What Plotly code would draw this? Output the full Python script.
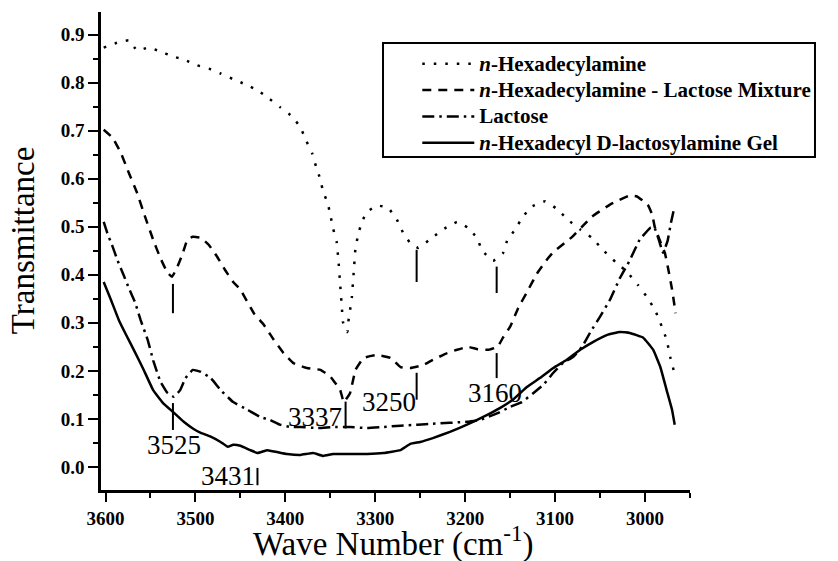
import plotly.graph_objects as go

# ---------------- data ----------------
hexa_x = [3602, 3587, 3574, 3565, 3552, 3539, 3526, 3513, 3498, 3485, 3472, 3459, 3444, 3431,
          3419, 3406, 3392, 3383, 3377, 3370, 3366, 3361, 3358, 3353, 3350, 3347, 3343, 3341,
          3339, 3337, 3336, 3333, 3331, 3330, 3328, 3326, 3324, 3322, 3319, 3315, 3309, 3298,
          3286, 3276, 3269, 3261, 3252, 3237, 3224, 3209, 3197, 3187, 3181, 3169, 3158, 3153,
          3144, 3137, 3126, 3111, 3098, 3086, 3072, 3059, 3047, 3033, 3020, 3008, 2998, 2989,
          2983, 2976, 2972, 2968]
hexa_y = [0.873, 0.883, 0.888, 0.867, 0.873, 0.865, 0.855, 0.848, 0.836, 0.829, 0.819, 0.808,
          0.796, 0.784, 0.768, 0.749, 0.729, 0.706, 0.680, 0.652, 0.626, 0.598, 0.573, 0.550,
          0.525, 0.497, 0.469, 0.431, 0.379, 0.327, 0.302, 0.285, 0.281, 0.302, 0.327, 0.354,
          0.404, 0.456, 0.483, 0.510, 0.531, 0.544, 0.540, 0.515, 0.487, 0.466, 0.456, 0.477,
          0.495, 0.510, 0.498, 0.477, 0.450, 0.429, 0.445, 0.473, 0.495, 0.518, 0.542, 0.553,
          0.537, 0.515, 0.494, 0.477, 0.452, 0.427, 0.406, 0.379, 0.354, 0.327, 0.300, 0.265,
          0.229, 0.200]

mix_x = [3602, 3592, 3583, 3574, 3565, 3556, 3547, 3539, 3531, 3526, 3520, 3514, 3509, 3503,
         3494, 3485, 3476, 3467, 3458, 3450, 3435, 3424, 3413, 3402, 3391, 3376, 3361, 3350,
         3339, 3335, 3328, 3322, 3313, 3298, 3283, 3272, 3261, 3247, 3236, 3220, 3209, 3197,
         3186, 3174, 3164, 3158, 3150, 3141, 3131, 3120, 3109, 3102, 3081, 3070, 3059, 3039,
         3017, 3009, 2997, 2992, 2989, 2983, 2978, 2974, 2970, 2966]
mix_y = [0.702, 0.685, 0.654, 0.612, 0.571, 0.521, 0.473, 0.435, 0.404, 0.396, 0.417, 0.445,
         0.473, 0.479, 0.477, 0.462, 0.438, 0.410, 0.385, 0.369, 0.320, 0.296, 0.265, 0.237,
         0.216, 0.206, 0.202, 0.188, 0.160, 0.135, 0.154, 0.202, 0.227, 0.233, 0.227, 0.208,
         0.206, 0.212, 0.223, 0.237, 0.244, 0.250, 0.245, 0.244, 0.250, 0.269, 0.292, 0.331,
         0.365, 0.403, 0.432, 0.447, 0.479, 0.500, 0.521, 0.546, 0.565, 0.563, 0.546, 0.525,
         0.498, 0.469, 0.446, 0.410, 0.370, 0.320]

lac_x = [3602, 3598, 3592, 3587, 3580, 3574, 3567, 3561, 3553, 3547, 3539, 3531, 3524, 3517,
         3511, 3503, 3494, 3483, 3472, 3458, 3442, 3428, 3417, 3406, 3394, 3383, 3364, 3347,
         3328, 3309, 3291, 3272, 3253, 3236, 3198, 3183, 3164, 3150, 3137, 3124, 3113, 3102,
         3091, 3080, 3070, 3061, 3050, 3039, 3028, 3017, 3006, 2994, 2990, 2985, 2980, 2975,
         2971, 2968]
lac_y = [0.510, 0.487, 0.458, 0.432, 0.400, 0.372, 0.342, 0.306, 0.264, 0.222, 0.178, 0.154,
         0.146, 0.160, 0.185, 0.202, 0.198, 0.185, 0.160, 0.135, 0.119, 0.104, 0.098, 0.088,
         0.083, 0.083, 0.081, 0.083, 0.083, 0.081, 0.083, 0.086, 0.088, 0.090, 0.094, 0.098,
         0.112, 0.125, 0.135, 0.154, 0.171, 0.196, 0.217, 0.229, 0.250, 0.280, 0.313, 0.348,
         0.393, 0.430, 0.473, 0.498, 0.500, 0.475, 0.446, 0.470, 0.510, 0.535]

gel_x = [3602, 3594, 3585, 3576, 3567, 3558, 3547, 3536, 3524, 3513, 3502, 3494, 3483, 3472,
         3464, 3458, 3450, 3439, 3431, 3420, 3409, 3398, 3383, 3369, 3358, 3347, 3328, 3309,
         3291, 3272, 3261, 3250, 3236, 3217, 3198, 3180, 3161, 3147, 3131, 3117, 3102, 3087,
         3072, 3058, 3042, 3028, 3017, 3002, 2991, 2983, 2976, 2970, 2967]
gel_y = [0.385, 0.348, 0.305, 0.271, 0.238, 0.204, 0.160, 0.133, 0.113, 0.094, 0.079, 0.071,
         0.063, 0.052, 0.042, 0.046, 0.044, 0.035, 0.029, 0.035, 0.031, 0.027, 0.025, 0.029,
         0.023, 0.027, 0.027, 0.027, 0.029, 0.035, 0.048, 0.052, 0.060, 0.073, 0.088, 0.104,
         0.123, 0.140, 0.167, 0.185, 0.206, 0.223, 0.244, 0.260, 0.275, 0.281, 0.279, 0.269,
         0.244, 0.208, 0.160, 0.119, 0.088]

series_names = ["<i>n</i>-Hexadecylamine",
                "<i>n</i>-Hexadecylamine - Lactose Mixture",
                "Lactose",
                "<i>n</i>-Hexadecyl D-lactosylamine Gel"]

# peak markers: wavenumber, y start, y end
mark_x = [3525, 3525, 3431, 3333, 3254, 3254, 3165, 3165]
mark_y0 = [0.381, 0.133, -0.002, 0.136, 0.452, 0.196, 0.417, 0.237]
mark_y1 = [0.320, 0.077, -0.038, 0.080, 0.385, 0.140, 0.362, 0.185]

# peak labels
label_text = ["3525", "3431", "3337", "3250", "3160"]
label_x = [3524, 3464, 3367, 3285, 3167]
label_y = [0.046, -0.019, 0.104, 0.135, 0.154]

x_ticks = [3600, 3500, 3400, 3300, 3200, 3100, 3000]

# ---------------- figure ----------------
SERIF = "Liberation Serif"
fig = go.Figure()

styles = ["2.5px,9px", "9px,7px", "12px,5px,2.5px,5px", "solid"]
for xs, ys, name, dash in zip([hexa_x, mix_x, lac_x, gel_x], [hexa_y, mix_y, lac_y, gel_y],
                              series_names, styles):
    fig.add_trace(go.Scatter(x=xs, y=ys, mode="lines",
                             name='<span style="font-size:21px">' + name + '</span>',
                             line=dict(color="black", width=2.5, dash=dash,
                                       shape="spline", smoothing=0.3)))

for xv, a, b in zip(mark_x, mark_y0, mark_y1):
    fig.add_shape(type="line", xref="x", yref="y", x0=xv, x1=xv, y0=a, y1=b,
                  line=dict(color="black", width=2))

for t, xv, yv in zip(label_text, label_x, label_y):
    fig.add_annotation(x=xv, y=yv, xref="x", yref="y", text=t, showarrow=False,
                       font=dict(family=SERIF, size=27, color="black"),
                       xanchor="center", yanchor="middle")

fig.add_annotation(x=-0.132, y=0.523, xref="paper", yref="paper", text="Transmittance",
                   textangle=-90, showarrow=False,
                   font=dict(family=SERIF, size=33, color="black"),
                   xanchor="center", yanchor="middle")

fig.add_annotation(x=0.497, y=-0.107, xref="paper", yref="paper",
                   text="Wave Number (cm<sup>-1</sup>)", showarrow=False,
                   font=dict(family=SERIF, size=33, color="black"),
                   xanchor="center", yanchor="middle")

# legend frame
fig.add_shape(type="rect", xref="paper", yref="paper",
              x0=0.4788, x1=1.2122, y0=0.6967, y1=0.935,
              line=dict(color="black", width=2), fillcolor="white", layer="below")

fig.update_layout(
    width=838, height=561,
    margin=dict(l=101, r=148, t=12, b=71, autoexpand=False),
    paper_bgcolor="white", plot_bgcolor="rgba(0,0,0,0)",
    font=dict(family=SERIF, color="black"),
    showlegend=True,
    legend=dict(x=0.537, y=0.930, xanchor="left", yanchor="top",
                bgcolor="rgba(0,0,0,0)", borderwidth=0,
                font=dict(family=SERIF, size=18, color="black", weight="bold"),
                itemwidth=52, tracegroupgap=0),
    xaxis=dict(range=[3605, 2950], tickvals=x_ticks, ticktext=[str(v) for v in x_ticks],
               automargin=False,
               showline=True, linecolor="black", linewidth=2.5,
               ticks="outside", ticklen=9, tickwidth=2, tickcolor="black",
               minor=dict(dtick=50, tick0=0, ticks="outside", ticklen=5, tickwidth=2,
                          tickcolor="black"),
               showgrid=False, zeroline=False,
               tickfont=dict(family=SERIF, size=19, color="black", weight="bold")),
    yaxis=dict(range=[-0.048, 0.947], tick0=0, dtick=0.1, tickformat=".1f",
               automargin=False,
               showline=True, linecolor="black", linewidth=2.5,
               ticks="outside", ticklen=10, tickwidth=2, tickcolor="black",
               minor=dict(dtick=0.05, tick0=0, ticks="outside", ticklen=5, tickwidth=2,
                          tickcolor="black"),
               showgrid=False, zeroline=False,
               tickfont=dict(family=SERIF, size=19, color="black", weight="bold")),
)

fig.write_html("out.html")
